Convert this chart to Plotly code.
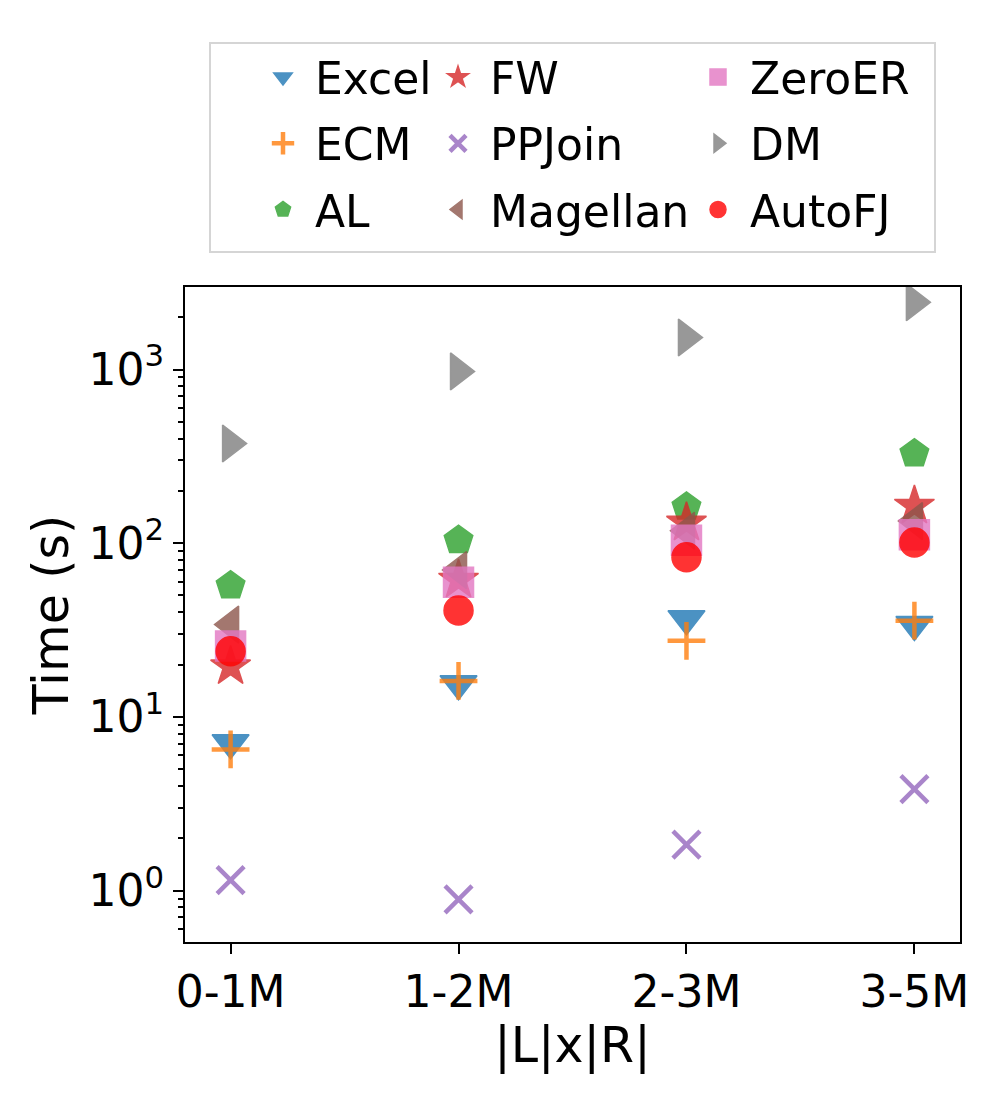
import plotly.graph_objects as go

sizes = ["0-1M", "1-2M", "2-3M", "3-5M"]

excel = [7.1, 15.5, 36.7, 34]
ecm = [6.5, 16.1, 27.4, 35.8]
al = [57, 104, 162, 328]
fw = [19.5, 61.5, 131, 164]
ppjoin = [1.15, 0.89, 1.84, 3.84]
magellan = [34, 70, 118, 134]
zeroer = [25.6, 59.6, 104, 112]
dm = [375, 975, 1528, 2438]
autofj = [23.9, 41, 83, 101]

y_tick_vals = [1, 10, 100, 1000]
y_tick_text = ["10<sup>0</sup>", "10<sup>1</sup>", "10<sup>2</sup>", "10<sup>3</sup>"]

# name, values, symbol, colour, legend column
methods = [
    ("Excel", excel, "triangle-down", "#1f77b4", "legend"),
    ("ECM", ecm, "cross-thin", "#ff7f0e", "legend"),
    ("AL", al, "pentagon", "#2ca02c", "legend"),
    ("FW", fw, "star", "#d62728", "legend2"),
    ("PPJoin", ppjoin, "x-thin", "#9467bd", "legend2"),
    ("Magellan", magellan, "triangle-left", "#8c564b", "legend2"),
    ("ZeroER", zeroer, "square", "#e377c2", "legend3"),
    ("DM", dm, "triangle-right", "#7f7f7f", "legend3"),
    ("AutoFJ", autofj, "circle", "#ff0000", "legend3"),
]

fig = go.Figure()
for name, vals, symbol, color, leg in methods:
    thin = symbol.endswith("-thin")
    size = 30
    if symbol == "circle":
        size = 29
    elif symbol.startswith("triangle"):
        size = 32
    elif thin:
        size = 27
    fig.add_trace(go.Scatter(
        x=sizes, y=vals, mode="markers", name=name, legend=leg,
        legendgroup=name,
        opacity=0.8,
        marker=dict(symbol=symbol, size=size, color=color,
                    line=dict(color=color, width=4.5 if thin else 1.5)),
    ))

# page is offset 8px by the body margin; plot area sits at 185..960 x 287..942
def px_x(p):
    return (p - 185) / 775


def px_y(p):
    return (942 - p) / 655


leg_font = dict(family="DejaVu Sans", size=44, color="black")
leg_common = dict(font=leg_font, bgcolor="rgba(0,0,0,0)", borderwidth=0,
                  tracegroupgap=6, xanchor="left", yanchor="top",
                  y=px_y(42), orientation="v", itemwidth=54)

fig.update_layout(
    width=1000, height=1100,
    margin=dict(l=177, r=48, t=279, b=166),
    plot_bgcolor="white", paper_bgcolor="white",
    font=dict(family="DejaVu Sans", size=43, color="black"),
    legend=dict(x=px_x(251), **leg_common),
    legend2=dict(x=px_x(426), **leg_common),
    legend3=dict(x=px_x(686), **leg_common),
    xaxis=dict(
        type="category", range=[-0.2, 3.2],
        showline=True, mirror=True, linecolor="black", linewidth=2,
        ticks="outside", ticklen=10, tickwidth=2, tickcolor="black",
        showgrid=False, zeroline=False,
        tickfont=dict(size=44),
        title=dict(text="|L|x|R|", font=dict(size=49), standoff=5),
    ),
    yaxis=dict(
        type="log", range=[-0.296, 3.475],
        tickvals=y_tick_vals, ticktext=y_tick_text,
        showline=True, mirror=True, linecolor="black", linewidth=2,
        ticks="outside", ticklen=10, tickwidth=2, tickcolor="black",
        minor=dict(
            tickvals=[m * d for d in [0.1, 1, 10, 100, 1000] for m in range(2, 10)],
            ticks="outside", ticklen=5, tickwidth=1.5, tickcolor="black",
            showgrid=False,
        ),
        showgrid=False, zeroline=False,
        tickfont=dict(size=44),
        title=dict(text="Time (s)", font=dict(size=49), standoff=4),
    ),
    shapes=[dict(
        type="rect", xref="paper", yref="paper",
        x0=px_x(210), x1=px_x(935), y0=px_y(252), y1=px_y(43),
        line=dict(color="#d5d5d5", width=2), fillcolor="rgba(0,0,0,0)",
    )],
)

fig.write_html("out.html")
